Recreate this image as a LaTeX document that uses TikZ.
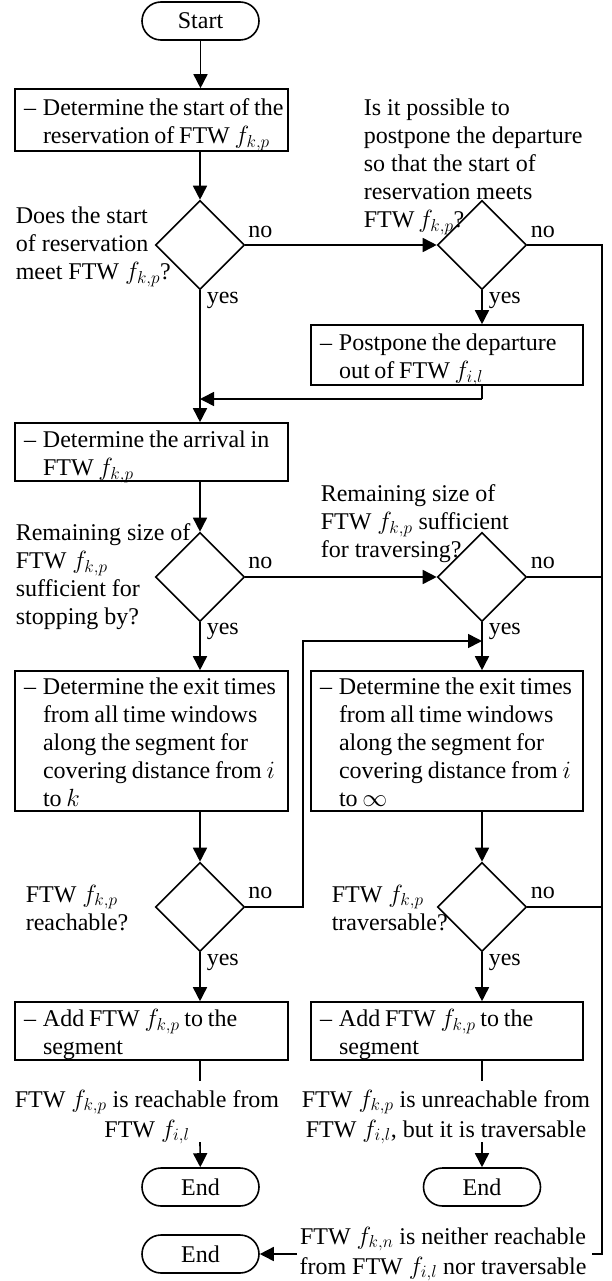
\documentclass[tikz,border=0pt]{standalone}
\usepackage{fontspec}
\setmainfont{Liberation Serif}
\usetikzlibrary{shapes.geometric,arrows.meta}
\newcommand{\dashtab}[1]{{\spaceskip=0.2em plus 0.1em\relax\begin{tabular}{@{}l@{\hspace{7pt}}l@{}}#1\end{tabular}}}
\begin{document}
\begin{tikzpicture}[x=1pt,y=-1pt,
  font=\fontsize{24}{28}\selectfont, line width=1.6pt,
  arr/.style={-{Triangle[length=14pt,width=14pt]}},
  box/.style={draw, rectangle, minimum width=273pt, inner sep=0},
  rbox/.style={draw, rectangle, minimum width=272pt, inner sep=0},
  term/.style={draw, rectangle, rounded corners=19pt, minimum width=117pt, minimum height=38pt, inner sep=0},
  dia/.style={draw, diamond, minimum width=89pt, minimum height=89pt, inner sep=0},
  txt/.style={inner sep=0, align=left},
  boxtext/.style={inner sep=0, anchor=west, yshift=-4pt},
  qtxt/.style={inner sep=0, align=left, anchor=north west},
  ctxt/.style={inner sep=0, align=center, font=\fontsize{24}{30}\selectfont},
  lbl/.style={inner sep=0, anchor=base west}]
\useasboundingbox (0,0) rectangle (611,1281);

% nodes
\node[term] (start) at (200.5,21) {Start};
\node[box, minimum height=62pt] (b1) at (151.5,120) {};
\node[boxtext] (b1t) at ([xshift=9pt]b1.west) {\dashtab{--&Determine the start of the\\&reservation of FTW $f_{k,p}$}};
\node[dia] (d1) at (200,245) {};
\node[dia] (d2) at (482,245) {};
\node[qtxt] (q1l) at (15,206) {Does the start\\of reservation\\meet FTW $f_{k,p}$?};
\node[qtxt] (q1r) at (363,98) {Is it possible to\\postpone the departure\\so that the start of\\reservation meets\\FTW\,$f_{k,p}$?};
\node[rbox, minimum height=60pt] (pp) at (447,355) {};
\node[boxtext] (ppt) at ([xshift=9pt]pp.west) {\dashtab{--&Postpone the departure\\&out of FTW $f_{i,l}$}};
\coordinate (m1) at (482,399);
\coordinate (m2) at (200,399);

\node[box, minimum height=58pt] (b2) at (151.5,452) {};
\node[boxtext] (b2t) at ([xshift=9pt]b2.west) {\dashtab{--&Determine the arrival in\\&FTW $f_{k,p}$}};
\node[dia] (d3) at (200,577) {};
\node[dia] (d4) at (482,577) {};
\node[qtxt] (q2l) at (15,523) {Remaining size of\\FTW $f_{k,p}$\\sufficient for\\stopping by?};
\node[qtxt] (q2r) at (320,484) {Remaining size of\\FTW $f_{k,p}$ sufficient\\for traversing?};

\node[box, minimum height=140pt] (b3) at (151.5,741) {};
\node[boxtext] (b3t) at ([xshift=9pt]b3.west) {\dashtab{--&Determine the exit times\\&from all time windows\\&along the segment for\\&covering distance from $i$\\&to $k$}};
\node[rbox, minimum height=140pt] (b4) at (447,741) {};
\node[boxtext] (b4t) at ([xshift=9pt]b4.west) {\dashtab{--&Determine the exit times\\&from all time windows\\&along the segment for\\&covering distance from $i$\\&to $\infty$}};
\coordinate (lp1) at (303,907);
\coordinate (lp2) at (303,641);
\coordinate (lp3) at (482,641);

\node[dia] (d5) at (200,907) {};
\node[dia] (d6) at (482,907) {};
\node[qtxt] (q3l) at (25,884) {FTW $f_{k,p}$\\reachable?};
\node[qtxt] (q3r) at (331,884) {FTW $f_{k,p}$\\traversable?};

\node[box, minimum height=58pt] (b5) at (151.5,1031) {};
\node[boxtext] (b5t) at ([xshift=9pt]b5.west) {\dashtab{--&Add FTW $f_{k,p}$ to the\\&segment}};
\node[rbox, minimum height=58pt] (b6) at (447,1031) {};
\node[boxtext] (b6t) at ([xshift=9pt]b6.west) {\dashtab{--&Add FTW $f_{k,p}$ to the\\&segment}};

\node[ctxt] (t1) at (147,1117) {FTW $f_{k,p}$ is reachable from\\FTW $f_{i,l}$};
\node[ctxt] (t2) at (446,1117) {FTW $f_{k,p}$ is unreachable from\\FTW $f_{i,l}$, but it is traversable};
\coordinate (c1) at (200,1081);
\coordinate (c2) at (200,1142);
\coordinate (c3) at (482,1081);
\coordinate (c4) at (482,1142);
\node[term] (e1) at (200.5,1187) {End};
\node[term] (e2) at (482,1187) {End};
\node[term] (e3) at (200.5,1254) {End};
\node[ctxt] (t3) at (443,1254) {FTW $f_{k,n}$ is neither reachable\\from FTW $f_{i,l}$ nor traversable};

\coordinate (r1) at (602,245);
\coordinate (r4) at (602,1254);
\coordinate (r5) at (592,1254);
\coordinate (a3) at (297,1254);

% labels
\node[lbl] (n1) at (247.5,237) {no};
\node[lbl] (n2) at (530,237) {no};
\node[lbl] (y1) at (206,303) {yes};
\node[lbl] (y2) at (488,303) {yes};
\node[lbl] (n3) at (247.5,568) {no};
\node[lbl] (n4) at (530,568) {no};
\node[lbl] (y3) at (206,634) {yes};
\node[lbl] (y4) at (488,634) {yes};
\node[lbl] (n5) at (247.5,898) {no};
\node[lbl] (n6) at (530,898) {no};
\node[lbl] (y5) at (206,965) {yes};
\node[lbl] (y6) at (488,965) {yes};

% connectors
\draw[arr] (start) -- (b1.north -| start);
\draw[arr] (b1.south -| d1) -- (d1.north);
\draw[arr] (d1.east) -- (d2.west);
\draw[arr] (d2.south) -- (pp.north -| d2);
\draw (pp.south -| d2) -- (m1);
\draw[arr] (m1) -- (m2);
\draw[arr] (d1.south) -- (b2.north -| d1);
\draw[arr] (b2.south -| d3) -- (d3.north);
\draw[arr] (d3.east) -- (d4.west);
\draw[arr] (d3.south) -- (b3.north -| d3);
\draw[arr] (d4.south) -- (b4.north -| d4);
\draw[arr] (b3.south -| d5) -- (d5.north);
\draw[arr] (b4.south -| d6) -- (d6.north);
\draw[arr] (d5.east) -- (lp1) -- (lp2) -- (lp3);
\draw[arr] (d5.south) -- (b5.north -| d5);
\draw[arr] (d6.south) -- (b6.north -| d6);
\draw (b5.south -| d5) -- (c1);
\draw[arr] (c2) -- (e1);
\draw (b6.south -| d6) -- (c3);
\draw[arr] (c4) -- (e2);
\draw (d2.east) -- (r1) -- (r4) -- (r5);
\draw (d4.east) -- (d4.east -| r1);
\draw (d6.east) -- (d6.east -| r1);
\draw[arr] (a3) -- (e3.east);
\end{tikzpicture}
\end{document}
